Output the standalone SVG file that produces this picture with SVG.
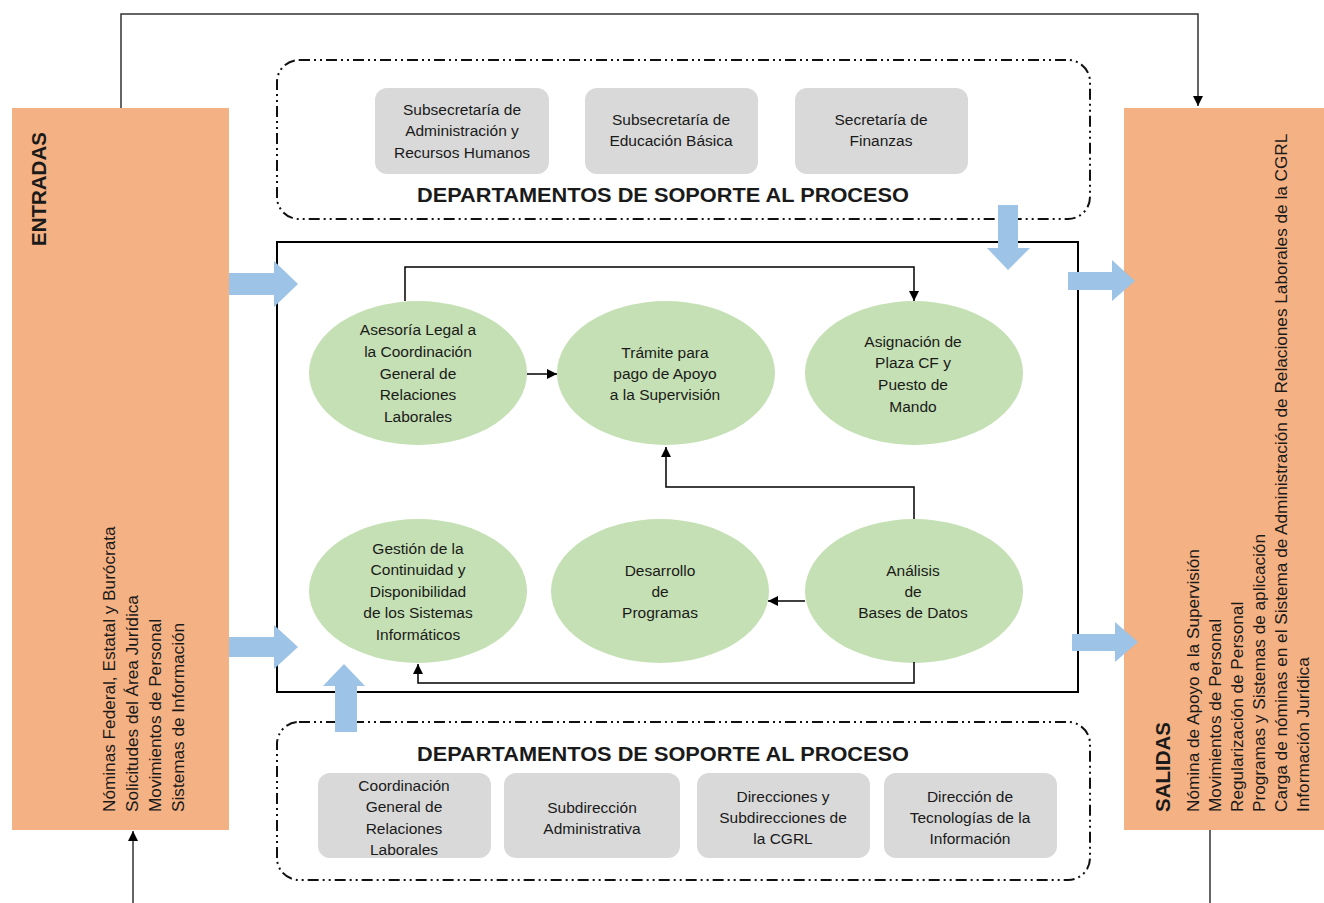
<svg xmlns="http://www.w3.org/2000/svg" width="1324" height="903" viewBox="0 0 1324 903">
<style>
text{font-family:"Liberation Sans",Arial,sans-serif;fill:#1a1a1a}
.panel{fill:#F4B183}
.ell{fill:#C5E0B4}
.gbox{fill:#D9D9D9}
.blue{fill:#9DC3E6}
.dash{fill:none;stroke:#111;stroke-width:2;stroke-dasharray:11 4 2 4 2 4}
.t15{font-size:15.5px;text-anchor:middle}
.list{font-size:17.2px}
.head{font-size:20.5px;font-weight:bold}
.title{font-size:21px;font-weight:bold;text-anchor:middle}
.conn{fill:none;stroke:#000;stroke-width:1.5}
.outer{fill:none;stroke:#333;stroke-width:1.5}
</style>
<defs>
<marker id="ah" viewBox="0 0 10 10" refX="10" refY="5" markerWidth="10" markerHeight="10" markerUnits="userSpaceOnUse" orient="auto">
<path d="M0,0 L10,5 L0,10 z" fill="#000"/>
</marker>
</defs>
<rect width="1324" height="903" fill="#fff"/>

<g id="entradas">
<rect class="panel" x="12" y="108" width="217" height="722"/>
<text class="head" transform="translate(46,246) rotate(-90)">ENTRADAS</text>
<text class="list" transform="translate(115,812) rotate(-90)">Nóminas Federal, Estatal y Burócrata</text>
<text class="list" transform="translate(138,812) rotate(-90)">Solicitudes del Área Jurídica</text>
<text class="list" transform="translate(161,812) rotate(-90)">Movimientos de Personal</text>
<text class="list" transform="translate(184,812) rotate(-90)">Sistemas de Información</text>
</g>

<g id="salidas">
<rect class="panel" x="1124" y="108" width="200" height="722"/>
<text class="head" transform="translate(1170,812) rotate(-90)">SALIDAS</text>
<text class="list" transform="translate(1199,812) rotate(-90)">Nómina de Apoyo a la Supervisión</text>
<text class="list" transform="translate(1221,812) rotate(-90)">Movimientos de Personal</text>
<text class="list" transform="translate(1243,812) rotate(-90)">Regularización de Personal</text>
<text class="list" transform="translate(1265,812) rotate(-90)">Programas y Sistemas de aplicación</text>
<text class="list" transform="translate(1287,812) rotate(-90)">Carga de nóminas en el Sistema de Administración de Relaciones Laborales de la CGRL</text>
<text class="list" transform="translate(1309,812) rotate(-90)">Información Jurídica</text>
</g>

<g id="soporte-superior">
<rect class="dash" x="277" y="60" width="813" height="159" rx="22"/>
<rect class="gbox" x="375" y="88" width="174" height="86" rx="12"/>
<text class="t15" x="462" y="115">Subsecretaría de</text>
<text class="t15" x="462" y="136">Administración y</text>
<text class="t15" x="462" y="158">Recursos Humanos</text>
<rect class="gbox" x="585" y="88" width="173" height="86" rx="12"/>
<text class="t15" x="671" y="125">Subsecretaría de</text>
<text class="t15" x="671" y="146">Educación Básica</text>
<rect class="gbox" x="795" y="88" width="173" height="86" rx="12"/>
<text class="t15" x="881" y="125">Secretaría de</text>
<text class="t15" x="881" y="146">Finanzas</text>
<text class="title" x="663" y="202" textLength="492" lengthAdjust="spacingAndGlyphs">DEPARTAMENTOS DE SOPORTE AL PROCESO</text>
</g>

<g id="soporte-inferior">
<rect class="dash" x="277" y="722" width="813" height="158" rx="22"/>
<text class="title" x="663" y="761" textLength="492" lengthAdjust="spacingAndGlyphs">DEPARTAMENTOS DE SOPORTE AL PROCESO</text>
<rect class="gbox" x="318" y="773" width="173" height="85" rx="12"/>
<text class="t15" x="404" y="791">Coordinación</text>
<text class="t15" x="404" y="812">General de</text>
<text class="t15" x="404" y="834">Relaciones</text>
<text class="t15" x="404" y="855">Laborales</text>
<rect class="gbox" x="504" y="773" width="176" height="85" rx="12"/>
<text class="t15" x="592" y="813">Subdirección</text>
<text class="t15" x="592" y="834">Administrativa</text>
<rect class="gbox" x="697" y="773" width="173" height="85" rx="12"/>
<text class="t15" x="783" y="802">Direcciones y</text>
<text class="t15" x="783" y="823">Subdirecciones de</text>
<text class="t15" x="783" y="844">la CGRL</text>
<rect class="gbox" x="884" y="773" width="173" height="85" rx="12"/>
<text class="t15" x="970" y="802">Dirección de</text>
<text class="t15" x="970" y="823">Tecnologías de la</text>
<text class="t15" x="970" y="844">Información</text>
</g>

<g id="proceso">
<rect x="277" y="242" width="801" height="450" fill="none" stroke="#000" stroke-width="2"/>
</g>

<g id="asesoria">
<ellipse class="ell" cx="418" cy="373" rx="109" ry="72"/>
<text class="t15" x="418" y="335">Asesoría Legal a</text>
<text class="t15" x="418" y="357">la Coordinación</text>
<text class="t15" x="418" y="379">General de</text>
<text class="t15" x="418" y="400">Relaciones</text>
<text class="t15" x="418" y="422">Laborales</text>
</g>
<g id="tramite">
<ellipse class="ell" cx="666" cy="373" rx="109" ry="72"/>
<text class="t15" x="665" y="358">Trámite para</text>
<text class="t15" x="665" y="379">pago de Apoyo</text>
<text class="t15" x="665" y="400">a la Supervisión</text>
</g>
<g id="asignacion">
<ellipse class="ell" cx="914" cy="373" rx="109" ry="72"/>
<text class="t15" x="913" y="347">Asignación de</text>
<text class="t15" x="913" y="368">Plaza CF y</text>
<text class="t15" x="913" y="390">Puesto de</text>
<text class="t15" x="913" y="412">Mando</text>
</g>
<g id="gestion">
<ellipse class="ell" cx="418" cy="591" rx="109" ry="72"/>
<text class="t15" x="418" y="554">Gestión de la</text>
<text class="t15" x="418" y="575">Continuidad y</text>
<text class="t15" x="418" y="597">Disponibilidad</text>
<text class="t15" x="418" y="618">de los Sistemas</text>
<text class="t15" x="418" y="640">Informáticos</text>
</g>
<g id="desarrollo">
<ellipse class="ell" cx="660" cy="591" rx="109" ry="72"/>
<text class="t15" x="660" y="576">Desarrollo</text>
<text class="t15" x="660" y="597">de</text>
<text class="t15" x="660" y="618">Programas</text>
</g>
<g id="analisis">
<ellipse class="ell" cx="914" cy="591" rx="109" ry="72"/>
<text class="t15" x="913" y="576">Análisis</text>
<text class="t15" x="913" y="597">de</text>
<text class="t15" x="913" y="618">Bases de Datos</text>
</g>

<g id="flechas-bloque">
<path class="blue" d="M229,273 H274 V261 L298,284 L274,307 V295 H229 z"/>
<path class="blue" d="M229,637 H274 V625 L298,647 L274,669 V657 H229 z"/>
<path class="blue" d="M335,732 V686 H323 L344,664 L365,686 H357 V732 z"/>
<path class="blue" d="M998,205 H1018 V248 H1030 L1008,270 L987,248 H998 z"/>
<path class="blue" d="M1068,272 H1112 V260 L1135,281 L1112,301 V290 H1068 z"/>
<path class="blue" d="M1072,634 H1115 V622 L1138,642 L1115,662 V651 H1072 z"/>
</g>

<g id="conectores">
<path class="outer" d="M121,108 V14 H1198 V106" marker-end="url(#ah)"/>
<path class="outer" d="M133,903 V831" marker-end="url(#ah)"/>
<path class="outer" d="M1210,830 V903"/>
<path class="conn" d="M405,301 V267 H914 V301" marker-end="url(#ah)"/>
<path class="conn" d="M527,374 H557" marker-end="url(#ah)"/>
<path class="conn" d="M914,519 V487 H666 V447" marker-end="url(#ah)"/>
<path class="conn" d="M805,601 H768" marker-end="url(#ah)"/>
<path class="conn" d="M914,662 V683 H418 V664" marker-end="url(#ah)"/>
</g>
</svg>
